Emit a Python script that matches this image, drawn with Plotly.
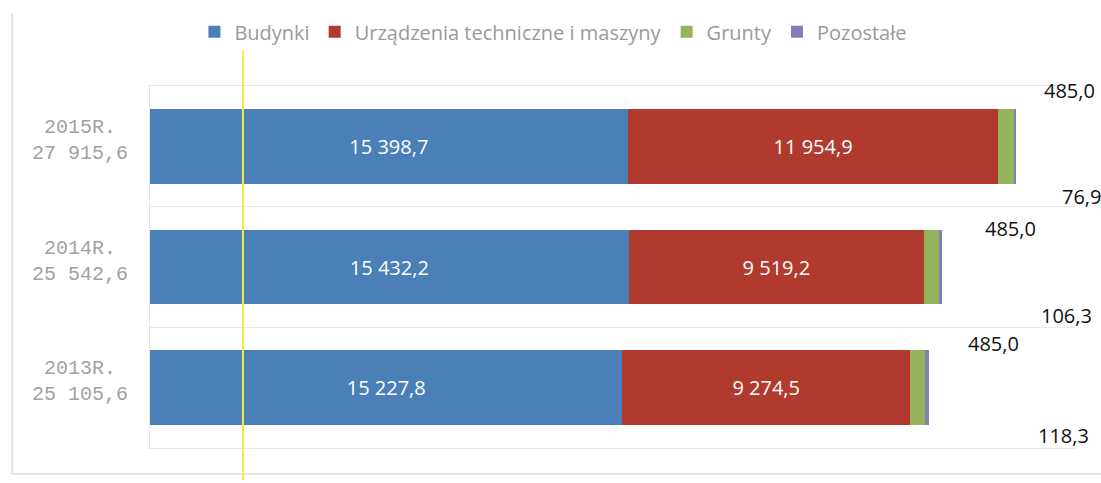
import plotly.graph_objects as go

# data
years = ['2013', '2014', '2015']
totals = [25105.6, 25542.6, 27915.6]
budynki = [15227.8, 15432.2, 15398.7]
urzadzenia = [9274.5, 9519.2, 11954.9]
grunty = [485.0, 485.0, 485.0]
pozostale = [118.3, 106.3, 76.9]

series_names = ['Budynki', 'Urządzenia techniczne i maszyny', 'Grunty', 'Pozostałe']
colors = ['#4a7fb8', '#b03a2e', '#94b35a', '#8080b6']

# offsets (px) of the outside labels, as placed in the original
grunty_shift = [(65, 44), (68, 39), (54, 56)]
pozostale_shift = [(135, -48), (124, -48), (66, -50)]


def fmt(v):
    return f"{v:,.1f}".replace(",", " ").replace(".", ",")


labels = [f"{y}R." for y in years]

fig = go.Figure()
for name, vals, col in zip(series_names, [budynki, urzadzenia, grunty, pozostale], colors):
    show_txt = name in ('Budynki', 'Urządzenia techniczne i maszyny')
    fig.add_trace(go.Bar(
        y=labels, x=vals, name=name, orientation='h',
        marker=dict(color=col, line=dict(width=0)),
        text=[fmt(v) for v in vals] if show_txt else None,
        textposition='inside' if show_txt else 'none',
        insidetextanchor='middle',
        textfont=dict(family='Open Sans', size=20, color='white'),
    ))

# labels for the thin segments, outside the bars
for i, y in enumerate(labels):
    fig.add_annotation(x=totals[i], y=y, text=fmt(grunty[i]), showarrow=False,
                       xanchor='center', yanchor='middle',
                       xshift=grunty_shift[i][0], yshift=grunty_shift[i][1],
                       font=dict(family='Open Sans', size=20, color='#111'))
    fig.add_annotation(x=totals[i], y=y, text=fmt(pozostale[i]), showarrow=False,
                       xanchor='center', yanchor='middle',
                       xshift=pozostale_shift[i][0], yshift=pozostale_shift[i][1],
                       font=dict(family='Open Sans', size=20, color='#111'))
    # category labels with totals
    fig.add_annotation(x=-0.076, xref='paper', y=y, yshift=6, showarrow=False,
                       text=f"{y}<br>{fmt(totals[i])}", align='center',
                       xanchor='center', yanchor='middle',
                       font=dict(family='Liberation Mono', size=20, color='#a2a2a2'))

# scan frame and the yellow marker line
fig.add_shape(type='line', xref='paper', yref='paper', x0=-0.149, x1=-0.149, y0=-0.072, y1=1.2,
              line=dict(color='#e2e6ea', width=2))
fig.add_shape(type='line', xref='paper', yref='paper', x0=-0.149, x1=1.03, y0=-0.072, y1=-0.072,
              line=dict(color='#e2e6ea', width=2))
fig.add_shape(type='line', xref='paper', yref='paper', x0=0.1005, x1=0.1005, y0=-0.09, y1=1.2,
              line=dict(color='#f4ec3a', width=2))

fig.update_xaxes(range=[0, 29820], showgrid=False, zeroline=False, showticklabels=False,
                 showline=True, mirror=True, linecolor='#e3e6e9', linewidth=1)
fig.update_yaxes(type='category', range=[-0.5, 2.5],
                 showticklabels=False, tickson='boundaries', showgrid=True,
                 gridcolor='#e6e9ec', gridwidth=1, showline=True, linecolor='#e3e6e9',
                 linewidth=1, ticks='')

fig.update_layout(barmode='stack', bargap=0.38,
                  width=1101, height=483,
                  margin=dict(l=150, r=26, t=72, b=35),
                  plot_bgcolor='white', paper_bgcolor='white',
                  legend=dict(orientation='h', x=0.048, xanchor='left', y=1.15, yanchor='middle',
                              font=dict(family='Open Sans', size=20, color='#9a9a9a'),
                              itemsizing='constant', traceorder='normal'),
                  showlegend=True)

# drop the page's default body margin so the figure fills the window
fig.write_html("out.html", config={'displayModeBar': False},
               post_script="document.body.style.margin='0';document.body.style.overflow='hidden';")
